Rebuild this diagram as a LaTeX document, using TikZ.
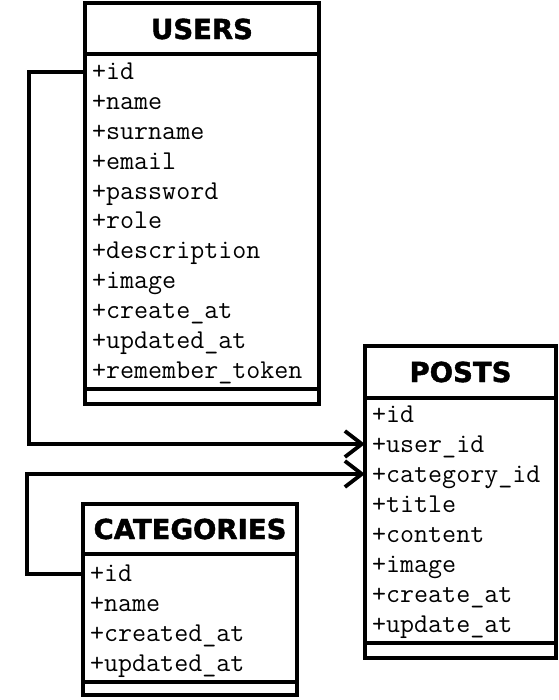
\documentclass[tikz,border=0pt]{standalone}
\usepackage{fontspec}
\newfontfamily\hdrfont[BoldFeatures={FakeBold=1.6}]{DejaVu Sans}
\usetikzlibrary{arrows.meta}
\begin{document}
\begin{tikzpicture}[x=1pt,y=-1pt,
  box/.style={line width=3.8pt},
  hdr/.style={font=\hdrfont\bfseries\fontsize{27.5}{30}\selectfont, inner sep=0pt},
  row/.style={anchor=west, font=\ttfamily\fontsize{27.2}{30}\selectfont, inner xsep=7pt, inner ysep=0pt, text height=18pt, text depth=6pt},
  conn/.style={line width=3.8pt, -{Straight Barb[length=17pt,width=26pt]}}]
\useasboundingbox (0,0) rectangle (558,700);
% USERS
\draw[box] (85,3) rectangle (319,404);
\draw[box] (85,54) -- (319,54);
\draw[box] (85,389) -- (319,389);
\node[hdr] (uh) at (202,29) {USERS};
\foreach \t [count=\i from 0] in {+id,+name,+surname,+email,+password,+role,+description,+image,+create\_at,+updated\_at,+remember\_token}
  \node[row] (u\i) at (85,{74+29.8*\i}) {\t};
% POSTS
\draw[box] (365,346) rectangle (556,658);
\draw[box] (365,398) -- (556,398);
\draw[box] (365,643) -- (556,643);
\node[hdr] (ph) at (460.5,372) {POSTS};
\foreach \t [count=\i from 0] in {+id,+user\_id,+category\_id,+title,+content,+image,+create\_at,+update\_at}
  \node[row] (p\i) at (365,{416+30*\i}) {\t};
% CATEGORIES
\draw[box] (83,504) rectangle (297,695);
\draw[box] (83,554) -- (297,554);
\draw[box] (83,682) -- (297,682);
\node[hdr] (ch) at (190,529) {CATEGORIES};
\foreach \t [count=\i from 0] in {+id,+name,+created\_at,+updated\_at}
  \node[row] (c\i) at (83,{575+30*\i}) {\t};
% connectors
\draw[conn] ([yshift=2pt]u0.west) -- ++(-56,0) |- ([yshift=2pt]p1.west);
\draw[conn] ([yshift=1pt]c0.west) -- ++(-56,0) |- ([yshift=2pt]p2.west);
\end{tikzpicture}
\end{document}
